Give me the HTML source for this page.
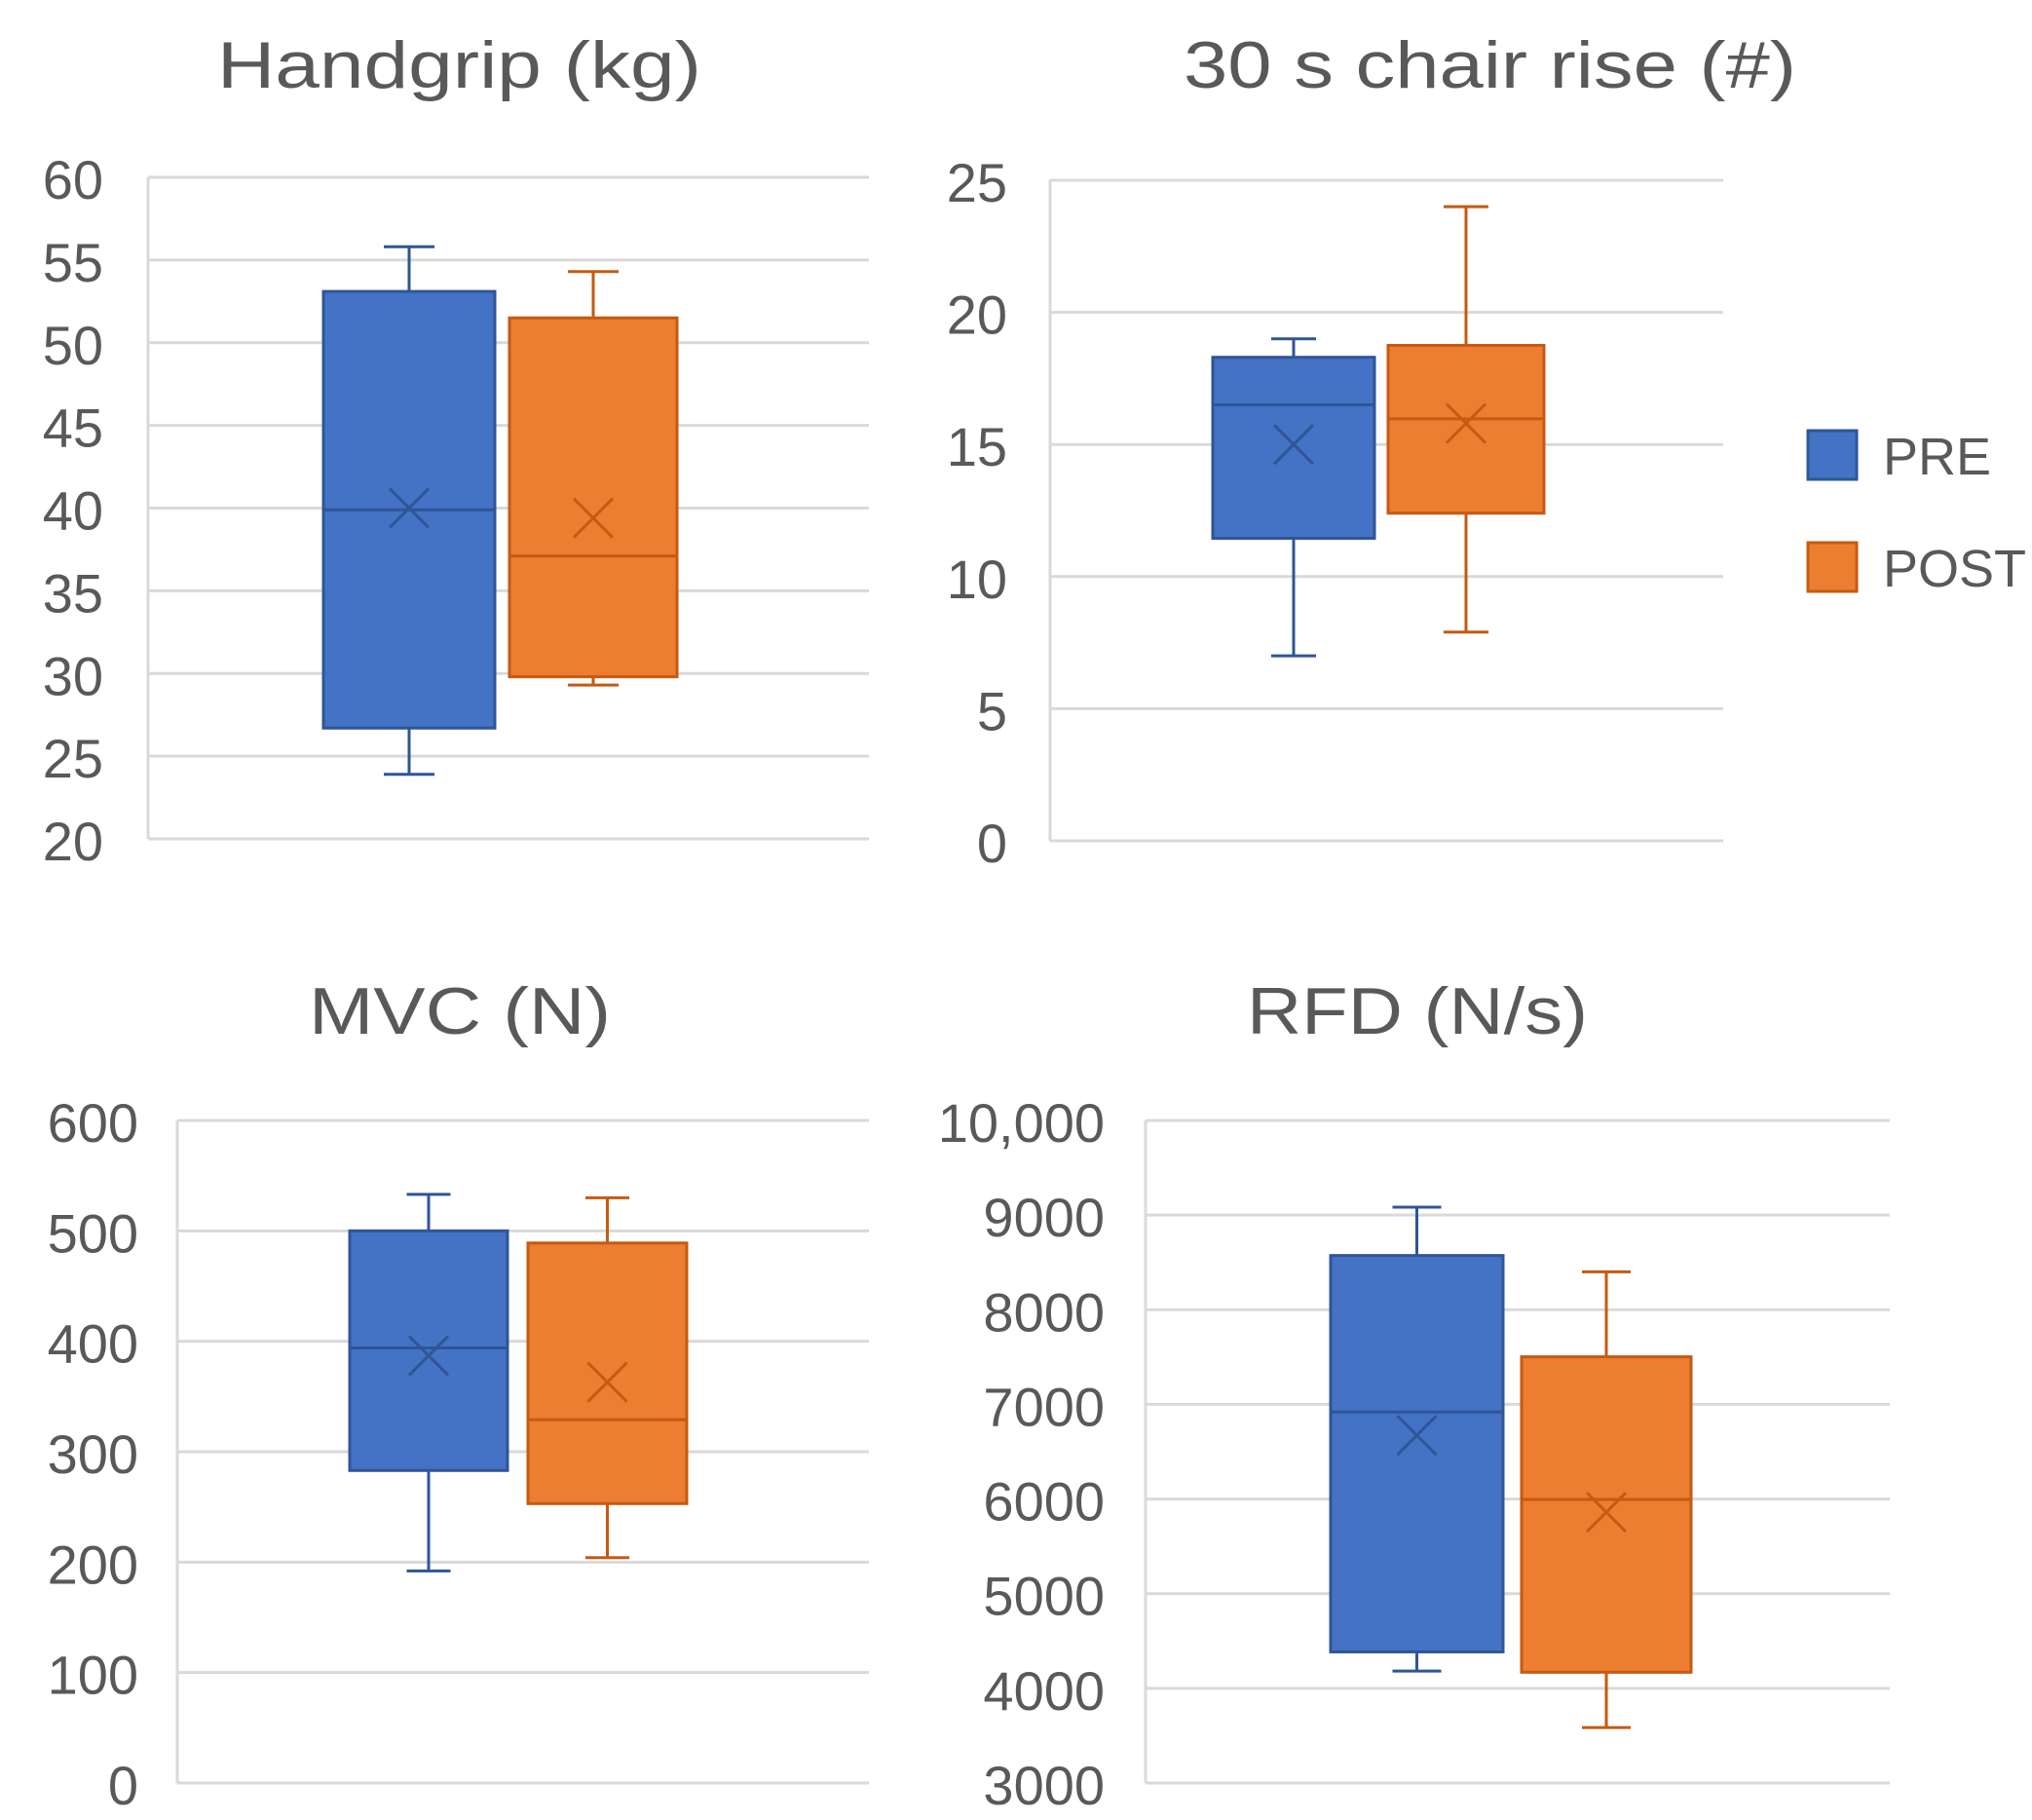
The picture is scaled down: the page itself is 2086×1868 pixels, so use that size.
<!DOCTYPE html>
<html><head><meta charset="utf-8"><style>
html,body{margin:0;padding:0;background:#fff;}
svg{display:block;font-family:"Liberation Sans","DejaVu Sans",sans-serif;}
</style></head><body>
<svg id="fig" width="2086" height="1868" viewBox="0 0 2086 1868" xmlns="http://www.w3.org/2000/svg"></svg>
<script>
// ---- data ----
const groups = ["PRE", "POST"];
const handgripTicks = [20,25,30,35,40,45,50,55,60];
const handgripPre = {min:23.9, q1:26.7, median:39.9, q3:53.1, max:55.8, mean:40.0};
const handgripPost = {min:29.3, q1:29.8, median:37.1, q3:51.5, max:54.3, mean:39.4};
const chairTicks = [0,5,10,15,20,25];
const chairPre = {min:7, q1:11.45, median:16.5, q3:18.3, max:19, mean:15};
const chairPost = {min:7.9, q1:12.4, median:15.97, q3:18.75, max:24, mean:15.8};
const mvcTicks = [0,100,200,300,400,500,600];
const mvcPre = {min:192, q1:283, median:394, q3:500, max:533, mean:387};
const mvcPost = {min:204, q1:253, median:329, q3:489, max:530, mean:363};
const rfdTicks = [3000,4000,5000,6000,7000,8000,9000,10000];
const rfdTickLabels = ["3000","4000","5000","6000","7000","8000","9000","10,000"];
const rfdPre = {min:4182, q1:4385, median:6919, q3:8573, max:9084, mean:6673};
const rfdPost = {min:3586, q1:4170, median:5996, q3:7503, max:8401, mean:5861};

const NS = "http://www.w3.org/2000/svg";
const svg = document.getElementById('fig');
function mk(tag, attrs, parent){
  const e = document.createElementNS(NS, tag);
  for (const k in attrs) e.setAttribute(k, attrs[k]);
  (parent||svg).appendChild(e); return e;
}
const fills = ["#4472c4", "#ed7d31"];
const strokes = ["#2f5597", "#c55a11"];

function chart(cfg){
  const g = mk('g', {});
  
  
  const ticks = cfg.ticks, lo = ticks[0], hi = ticks[ticks.length-1];
  const Y = v => cfg.y0 - (v - lo) / (hi - lo) * (cfg.y0 - cfg.y1);
  const t = mk('text', {x: cfg.tx0, y: cfg.tbase, 'font-size': 68, fill: '#595959', textLength: cfg.tx1 - cfg.tx0, lengthAdjust: 'spacingAndGlyphs'}, g);
  t.textContent = cfg.title;
  
  
  ticks.forEach((v, i) => {
    const gl = mk('line', {x1: cfg.x0, x2: cfg.x1, y1: Y(v), y2: Y(v), stroke: '#d9d9d9', 'stroke-width': 3}, g);
    
    
    const tl = mk('text', {x: cfg.lx, y: Y(v) + 22, 'font-size': 56, fill: '#595959', 'text-anchor': 'end'}, g);
    tl.textContent = cfg.labels ? cfg.labels[i] : String(v);
    
    
  });
  const ax = mk('line', {x1: cfg.x0, x2: cfg.x0, y1: cfg.y1, y2: cfg.y0, stroke: '#d9d9d9', 'stroke-width': 3}, g);
  
  
  [cfg.pre, cfg.post].forEach((d, i) => {
    const bx0 = cfg.boxes[i][0], bx1 = cfg.boxes[i][1], cx = (bx0 + bx1) / 2;
    const hw = cfg.capW / 2;
    const bg = mk('g', {}, g);
    
    
    mk('line', {x1: cx, x2: cx, y1: Y(d.max), y2: Y(d.q3), stroke: strokes[i], 'stroke-width': 3}, bg);
    mk('line', {x1: cx, x2: cx, y1: Y(d.q1), y2: Y(d.min), stroke: strokes[i], 'stroke-width': 3}, bg);
    mk('line', {x1: cx - hw, x2: cx + hw, y1: Y(d.max), y2: Y(d.max), stroke: strokes[i], 'stroke-width': 3}, bg);
    mk('line', {x1: cx - hw, x2: cx + hw, y1: Y(d.min), y2: Y(d.min), stroke: strokes[i], 'stroke-width': 3}, bg);
    mk('rect', {x: bx0, y: Y(d.q3), width: bx1 - bx0, height: Y(d.q1) - Y(d.q3), fill: fills[i], stroke: strokes[i], 'stroke-width': 3}, bg);
    mk('line', {x1: bx0, x2: bx1, y1: Y(d.median), y2: Y(d.median), stroke: strokes[i], 'stroke-width': 3}, bg);
    const m = Y(d.mean), s = 20;
    mk('path', {d: `M${cx-s},${m-s}L${cx+s},${m+s}M${cx-s},${m+s}L${cx+s},${m-s}`, stroke: strokes[i], 'stroke-width': 3, fill: 'none'}, bg);
  });
}

chart({name:'handgrip', title:'Handgrip (kg)', tx0:223, tx1:720, tbase:90, ticks:handgripTicks,
  x0:152, x1:892, y1:182, y0:861, lx:106, boxes:[[332,508],[523,695]], capW:52, pre:handgripPre, post:handgripPost});
chart({name:'chair-rise', title:'30 s chair rise (#)', tx0:1215, tx1:1844, tbase:90, ticks:chairTicks,
  x0:1078, x1:1769, y1:185, y0:863, lx:1034, boxes:[[1245,1411],[1425,1585]], capW:46, pre:chairPre, post:chairPost});
chart({name:'mvc', title:'MVC (N)', tx0:317, tx1:627, tbase:1061, ticks:mvcTicks,
  x0:182, x1:892, y1:1150, y0:1830, lx:142, boxes:[[359,521],[542,705]], capW:45, pre:mvcPre, post:mvcPost});
chart({name:'rfd', title:'RFD (N/s)', tx0:1280, tx1:1630, tbase:1061, ticks:rfdTicks, labels:rfdTickLabels,
  x0:1176, x1:1940, y1:1150, y0:1830, lx:1134, boxes:[[1366,1543],[1562,1736]], capW:50, pre:rfdPre, post:rfdPost});

// legend
const lg = mk('g', {});


groups.forEach((name, i) => {
  const ey = [442, 557][i];
  const e = mk('g', {}, lg);
  
  
  mk('rect', {x: 1856, y: ey, width: 50, height: 50, fill: fills[i], stroke: strokes[i], 'stroke-width': 3}, e);
  const tx = mk('text', {x: 1933, y: ey + 45, 'font-size': 54, fill: '#595959'}, e);
  tx.textContent = name;
});
</script>
</body></html>
